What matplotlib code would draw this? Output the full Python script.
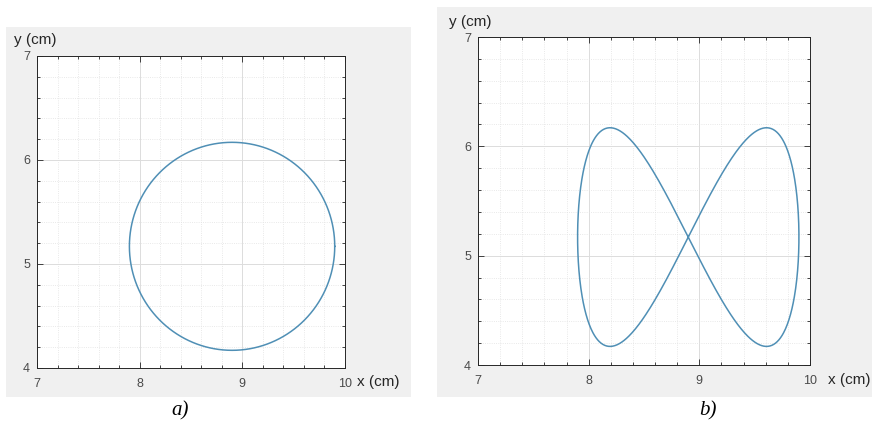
import numpy as np
import matplotlib.pyplot as plt
from matplotlib.patches import Rectangle
from matplotlib.ticker import MultipleLocator

# trajectory parameters (cm)
center_x = 8.9
center_y = 5.17
radius = 1.0
lobe_x = 1.0   # half width of the figure eight
lobe_y = 1.0   # half height of the figure eight

x_limits = [7, 10]
y_limits = [4, 7]
x_ticks = [7, 8, 9, 10]
y_ticks = [4, 5, 6, 7]
captions = ["a)", "b)"]

line_color = "#4f8fb5"
panel_bg = "#f0f0f0"
tick_gray = "#4a4a4a"

t = np.linspace(0, 2 * np.pi, 721)
circle_x = center_x + radius * np.cos(t)
circle_y = center_y + radius * np.sin(t)
eight_x = center_x + lobe_x * np.sin(t)
eight_y = center_y + lobe_y * np.sin(2 * t)

fig = plt.figure(figsize=(8.72, 4.32), dpi=100)
fig.patch.set_facecolor("white")

W, H = 872.0, 432.0


def px_rect(x0, y0, x1, y1):
    # pixel box (top-left origin) -> figure fraction [left, bottom, width, height]
    return [x0 / W, (H - y1) / H, (x1 - x0) / W, (y1 - y0) / H]


# grey figure backgrounds behind each plot
for box in [(6, 27, 411, 397), (437, 7, 872, 397)]:
    l, b, w, h = px_rect(*box)
    fig.patches.append(Rectangle((l, b), w, h, transform=fig.transFigure,
                                 facecolor=panel_bg, edgecolor="none", zorder=-10))

ax_a = fig.add_axes(px_rect(37, 56, 345, 368))
ax_b = fig.add_axes(px_rect(478, 37, 810, 365))

for ax in [ax_a, ax_b]:
    ax.set_xlim(x_limits)
    ax.set_ylim(y_limits)
    ax.set_xticks(x_ticks)
    ax.set_yticks(y_ticks)
    ax.xaxis.set_minor_locator(MultipleLocator(0.2))
    ax.yaxis.set_minor_locator(MultipleLocator(0.2))
    ax.tick_params(which="both", direction="in", top=True, right=True,
                   colors="#262626", labelcolor=tick_gray, labelsize=9,
                   width=0.6)
    ax.tick_params(which="major", length=4)
    ax.tick_params(axis="x", which="major", pad=7)
    ax.tick_params(axis="y", which="major", pad=5)
    ax.tick_params(which="minor", length=2)
    ax.grid(which="major", color="#dcdcdc", linewidth=0.7)
    ax.grid(which="minor", color="#e2e2e2", linewidth=0.6, linestyle=":")
    ax.set_axisbelow(True)
    for s in ax.spines.values():
        s.set_color("#262626")
        s.set_linewidth(0.7)
    for lab in ax.get_xticklabels() + ax.get_yticklabels():
        lab.set_family("Liberation Sans")

ax_a.plot(circle_x, circle_y, color=line_color, linewidth=1.1)
ax_b.plot(eight_x, eight_y, color=line_color, linewidth=1.1)

label_kw = dict(fontsize=11, color="#262626", family="Liberation Sans")
fig.text(14 / W, 1 - 40 / H, "y (cm)", ha="left", va="center", **label_kw)
fig.text(357 / W, 1 - 382 / H, "x (cm)", ha="left", va="center", **label_kw)
fig.text(449 / W, 1 - 22 / H, "y (cm)", ha="left", va="center", **label_kw)
fig.text(828 / W, 1 - 380 / H, "x (cm)", ha="left", va="center", **label_kw)

cap_kw = dict(fontsize=15, style="italic", family="Liberation Serif",
              ha="center", va="center", color="black")
fig.text(180 / W, 1 - 411 / H, captions[0], **cap_kw)
fig.text(708 / W, 1 - 411 / H, captions[1], **cap_kw)

fig.savefig("out.png", dpi=100)
